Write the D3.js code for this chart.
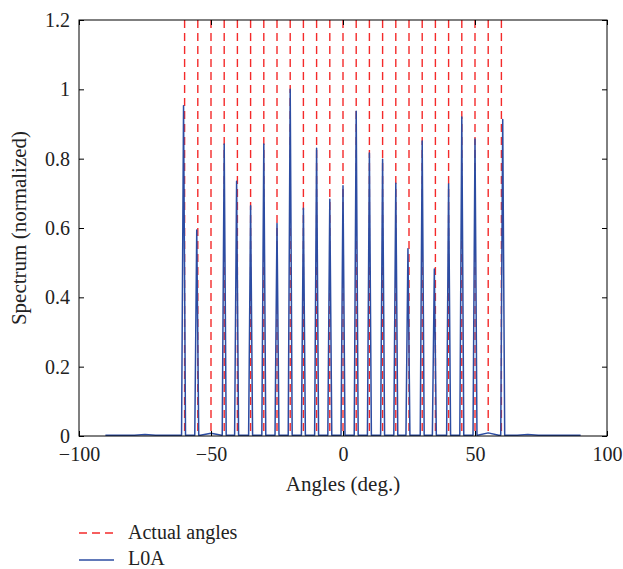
<!DOCTYPE html>
<html>
<head>
<meta charset="utf-8">
<script src="https://cdn.jsdelivr.net/npm/d3@7"></script>
<style>
  html, body { margin: 0; padding: 0; background: #fff; }
  svg { display: block; }
  text { font-family: "Liberation Serif", "DejaVu Serif", serif; fill: #222; }
</style>
</head>
<body>
<svg id="chart" width="623" height="569"></svg>
<script>
// ---- Data ----
const actualAngles = [-60, -55, -50, -45, -40, -35, -30, -25, -20, -15, -10, -5, 0, 5, 10, 15, 20, 25, 30, 35, 40, 45, 50, 55, 60];
const peakAngles = [-60.4, -55.4, -45, -40.3, -35, -30, -25, -20, -15, -10, -5, 0, 5, 10, 15, 20, 24.6, 30, 34.6, 40, 45, 50, 60.5];
const peakValues = [0.953, 0.594, 0.842, 0.735, 0.664, 0.842, 0.613, 1.0, 0.657, 0.830, 0.683, 0.722, 0.937, 0.816, 0.798, 0.729, 0.540, 0.851, 0.482, 0.727, 0.920, 0.857, 0.913];
const bumpAngles = [-75, -50, 55, 70];
const bumpValues = [0.004, 0.008, 0.009, 0.004];
const spectrumRange = [-90, 90];
const baseLevel = 0.002;
const xTickValues = [-100, -50, 0, 50, 100];
const xTickLabels = ["\u2212100", "\u221250", "0", "50", "100"];
const yTickValues = [0, 0.2, 0.4, 0.6, 0.8, 1.0, 1.2];
const yTickLabels = ["0", "0.2", "0.4", "0.6", "0.8", "1", "1.2"];
const legendLabels = ["Actual angles", "L0A"];

// ---- Layout ----
const svg = d3.select("#chart");
const L = 79, R = 607, T = 20, B = 436;
const x = d3.scaleLinear().domain([-100, 100]).range([L, R]);
const y = d3.scaleLinear().domain([0, 1.2]).range([B, T]);
const red = "#f42a2a";
const blue = "#2c4ca2";

// spectrum points
const spikeHalf = 0.75, bumpHalf = 4;
let pts = [[spectrumRange[0], baseLevel]];
bumpAngles.forEach((a, i) => {
  pts.push([a - bumpHalf, baseLevel], [a, bumpValues[i]], [a + bumpHalf, baseLevel]);
});
peakAngles.forEach((a, i) => {
  pts.push([a - spikeHalf, baseLevel], [a, peakValues[i]], [a + spikeHalf, baseLevel]);
});
pts.push([spectrumRange[1], baseLevel]);
pts.sort((a, b) => a[0] - b[0]);

// red dashed lines
svg.append("g").selectAll("line").data(actualAngles).join("line")
  .attr("x1", d => x(d)).attr("x2", d => x(d))
  .attr("y1", y(1.2)).attr("y2", y(0))
  .attr("stroke", red).attr("stroke-width", 1.4)
  .attr("stroke-dasharray", "8,5");

// blue spectrum
const line = d3.line().x(d => x(d[0])).y(d => y(d[1]));
svg.append("path").datum(pts)
  .attr("d", line)
  .attr("fill", "none")
  .attr("stroke", blue)
  .attr("stroke-width", 1.5)
  .attr("stroke-linejoin", "round");

// axes
const fs = 20;
const gx = svg.append("g").attr("transform", `translate(0,${B})`)
  .call(d3.axisBottom(x).tickValues(xTickValues).tickSize(-5).tickPadding(11)
    .tickFormat((d, i) => xTickLabels[i]));
const gxt = svg.append("g").attr("transform", `translate(0,${T})`)
  .call(d3.axisTop(x).tickValues(xTickValues).tickSize(-5).tickFormat(""));
const gy = svg.append("g").attr("transform", `translate(${L},0)`)
  .call(d3.axisLeft(y).tickValues(yTickValues).tickSize(-5).tickPadding(9)
    .tickFormat((d, i) => yTickLabels[i]));
const gyr = svg.append("g").attr("transform", `translate(${R},0)`)
  .call(d3.axisRight(y).tickValues(yTickValues).tickSize(-5).tickFormat(""));
[gx, gxt, gy, gyr].forEach(g => {
  g.select(".domain").remove();
  g.selectAll(".tick line").attr("stroke", "#000").attr("stroke-width", 1);
  g.selectAll("text").attr("font-size", fs).attr("font-family", "Liberation Serif").attr("fill", "#222");
});

// frame
svg.append("rect").attr("x", L).attr("y", T).attr("width", R - L).attr("height", B - T)
  .attr("fill", "none").attr("stroke", "#000").attr("stroke-width", 1);

// axis labels
svg.append("text").attr("x", (L + R) / 2).attr("y", 491)
  .attr("text-anchor", "middle").attr("font-size", 21).text("Angles (deg.)");
svg.append("text").attr("transform", `translate(26,${(T + B) / 2}) rotate(-90)`)
  .attr("text-anchor", "middle").attr("font-size", 21).text("Spectrum (normalized)");

// legend
const lg = svg.append("g");
lg.append("line").attr("x1", 79).attr("x2", 114).attr("y1", 533).attr("y2", 533)
  .attr("stroke", red).attr("stroke-width", 1.4).attr("stroke-dasharray", "8,5");
lg.append("text").attr("x", 128).attr("y", 539).attr("font-size", 20).text(legendLabels[0]);
lg.append("line").attr("x1", 79).attr("x2", 114).attr("y1", 560).attr("y2", 560)
  .attr("stroke", blue).attr("stroke-width", 1.5);
lg.append("text").attr("x", 128).attr("y", 565).attr("font-size", 20).text(legendLabels[1]);
</script>
</body>
</html>
